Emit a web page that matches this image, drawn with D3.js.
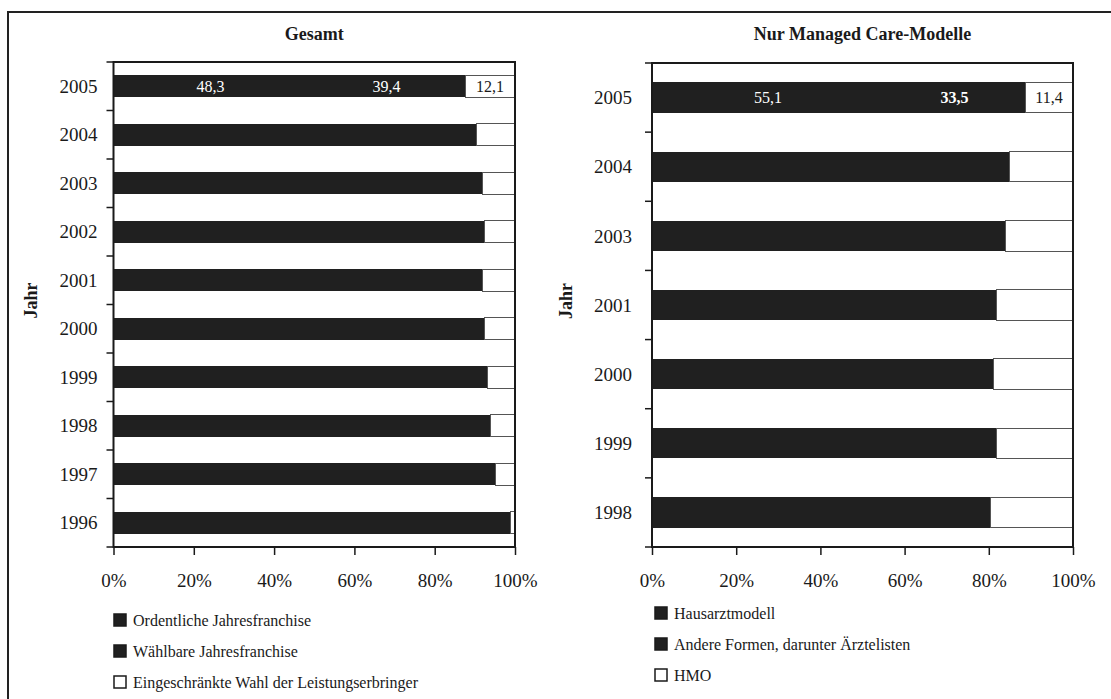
<!DOCTYPE html>
<html><head><meta charset="utf-8">
<script src="https://cdn.jsdelivr.net/npm/d3@7"></script>
<style>body{margin:0;background:#fff}svg{display:block}text{font-family:"Liberation Serif","DejaVu Serif",serif;fill:#1a1a1a}</style>
</head><body>
<svg id="c" width="1111" height="699"></svg>
<script>
// ---- Data: Gesamt ----
const yearsA = ["2005","2004","2003","2002","2001","2000","1999","1998","1997","1996"];
const ordentlich = [48.3, 50.0, 50.6, 52.7, 54.5, 56.0, 58.0, 59.0, 58.0, 67.0];
const waehlbar   = [39.4, 40.3, 41.3, 39.8, 37.5, 36.3, 35.2, 34.8, 37.2, 31.8];
const eingeschr  = [12.1,  9.7,  8.1,  7.5,  8.0,  7.7,  6.8,  6.2,  4.8,  1.2];
const seriesA = ["Ordentliche Jahresfranchise","Wählbare Jahresfranchise","Eingeschränkte Wahl der Leistungserbringer"];
// ---- Data: Nur Managed Care-Modelle ----
const yearsB = ["2005","2004","2003","2001","2000","1999","1998"];
const hausarzt = [55.1, 57.0, 65.5, 70.8, 70.0, 69.6, 72.0];
const andere   = [33.5, 27.8, 18.5, 11.0, 11.0, 12.2,  8.5];
const hmo      = [11.4, 15.2, 16.0, 18.2, 19.0, 18.2, 19.5];
const seriesB = ["Hausarztmodell","Andere Formen, darunter Ärztelisten","HMO"];
const xTicks = [0,20,40,60,80,100];
// labelled values (only 2005)
const labelYear = "2005";

const svg = d3.select("#c");
const DARK = "#202020";
const fills = [DARK, DARK, "#ffffff"];

// outer frame
svg.append("rect").attr("x",8).attr("y",12).attr("width",1110).attr("height",695)
  .attr("fill","none").attr("stroke","#222").attr("stroke-width",2);

function panel(cfg){
  const g = svg.append("g");
  const x = d3.scaleLinear().domain([0,100]).range([cfg.x0, cfg.x1]);
  const y = d3.scaleBand().domain(cfg.years).range([cfg.y0, cfg.y1])
    .paddingInner(cfg.pad).paddingOuter(cfg.pad/2);
  const rows = cfg.years.map((yr,i)=>{
    const vals = cfg.vals.map(a=>a[i]);
    let acc = 0;
    return vals.map((v,k)=>{ const s = {year:yr, k, v, a:acc, b:acc+v}; acc += v; return s; });
  });
  const segs = rows.flat();
  // bars
  g.selectAll("rect.seg").data(segs).join("rect").attr("class","seg")
    .attr("x", d=>x(d.a)).attr("width", d=>Math.max(0, x(Math.min(d.b,100))-x(d.a)) + (d.k<2?0.6:0))
    .attr("y", d=>y(d.year)).attr("height", y.bandwidth())
    .attr("fill", d=>fills[d.k]).attr("shape-rendering","crispEdges")
    .attr("stroke", d=>d.k===2 ? "#555" : "none").attr("stroke-width",1);
  // plot frame
  g.append("rect").attr("x",cfg.x0).attr("y",cfg.y0).attr("width",cfg.x1-cfg.x0).attr("height",cfg.y1-cfg.y0)
    .attr("fill","none").attr("stroke","#1a1a1a").attr("stroke-width",2);
  // y ticks at band boundaries
  const off = (y.step()-y.bandwidth())/2;
  const bounds = cfg.years.map(yr=>y(yr)-off).concat([cfg.y1]);
  g.selectAll("line.yt").data(bounds).join("line").attr("class","yt")
    .attr("x1",cfg.x0-7).attr("x2",cfg.x0).attr("y1",d=>d).attr("y2",d=>d)
    .attr("stroke","#1a1a1a").attr("stroke-width",1.5);
  // year labels
  g.selectAll("text.yl").data(cfg.years).join("text").attr("class","yl")
    .attr("x", cfg.x0 - cfg.labGap).attr("y", d=>y(d)+y.bandwidth()/2).attr("dy","0.35em")
    .attr("text-anchor","end").style("font-size","19px").text(d=>d);
  // x axis
  const ax = g.append("g").attr("transform",`translate(0,${cfg.y1})`)
    .call(d3.axisBottom(x).tickValues(xTicks).tickFormat(d=>d+"%").tickSize(8).tickPadding(19));
  ax.select(".domain").remove();
  ax.selectAll("line").attr("stroke","#1a1a1a").attr("stroke-width",1.5);
  ax.selectAll("text").style("font-size","19px").attr("fill","#1a1a1a")
    .style("font-family",'"Liberation Serif",serif');
  // title
  g.append("text").attr("x",(cfg.x0+cfg.x1)/2).attr("y",cfg.titleY).attr("text-anchor","middle")
    .style("font-size","18px").style("font-weight","bold").text(cfg.title);
  // y title
  g.append("text").attr("transform",`translate(${cfg.yTitleX},${(cfg.y0+cfg.y1)/2-4}) rotate(-90)`)
    .attr("text-anchor","middle").style("font-size","18px").style("font-weight","bold").text("Jahr");
  // value labels
  const lab = segs.filter(d=>d.year===labelYear);
  g.selectAll("text.vl").data(lab).join("text").attr("class","vl")
    .attr("x", d=>x((d.a+d.b)/2)).attr("y", y(labelYear)+y.bandwidth()/2).attr("dy","0.35em")
    .attr("text-anchor","middle").style("font-size","16px")
    .style("font-weight", d=>d.k===1 && cfg.boldMid ? "bold":"normal")
    .style("fill", d=>d.k===2 ? "#1a1a1a" : "#ffffff")
    .text(d=>d3.format(".1f")(d.v).replace(".",","));
  // legend
  const lg = g.selectAll("g.lg").data(cfg.series).join("g").attr("class","lg")
    .attr("transform",(d,i)=>`translate(${cfg.legX},${cfg.legY + i*cfg.legStep})`);
  lg.append("rect").attr("x",0).attr("y",-6).attr("width",12).attr("height",12)
    .attr("fill",(d,i)=>fills[i]).attr("stroke","#1a1a1a").attr("stroke-width",1.5);
  lg.append("text").attr("x",19).attr("y",0).attr("dy","0.35em").style("font-size","16px").text(d=>d);
}

panel({x0:113.5, x1:515, y0:62, y1:547, years:yearsA, vals:[ordentlich,waehlbar,eingeschr], pad:0.55,
  labGap:16, title:"Gesamt", titleY:40, yTitleX:37, boldMid:false,
  series:seriesA, legX:114, legY:620, legStep:31});
panel({x0:652, x1:1073, y0:63, y1:547, years:yearsB, vals:[hausarzt,andere,hmo], pad:0.56,
  labGap:20, title:"Nur Managed Care-Modelle", titleY:40, yTitleX:572, boldMid:true,
  series:seriesB, legX:655, legY:613, legStep:31});
</script>
</body></html>
